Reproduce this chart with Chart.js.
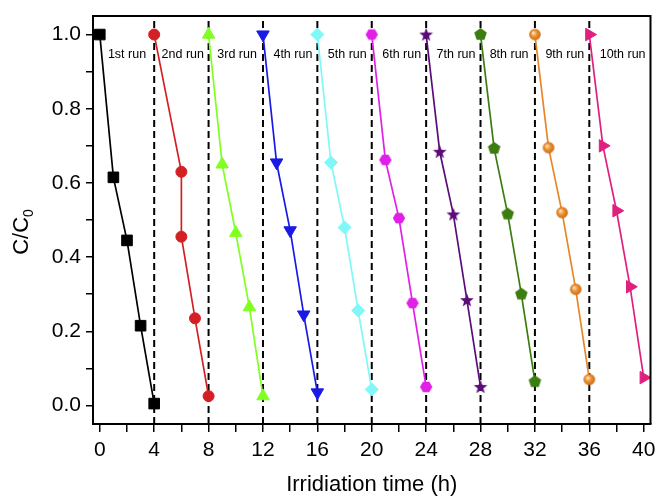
<!DOCTYPE html>
<html><head><meta charset="utf-8">
<script src="https://cdn.jsdelivr.net/npm/chart.js@4/dist/chart.umd.min.js"></script>
<style>html,body{margin:0;padding:0;background:#fff}</style>
</head><body>
<canvas id="c" width="659" height="498"></canvas>
<script>
// ---- data ----
const runNames = ['1st run','2nd run','3rd run','4th run','5th run','6th run','7th run','8th run','9th run','10th run'];
const timesRun1 = [0, 1, 2, 3, 4];      const ratioRun1 = [1.00, 0.615, 0.445, 0.215, 0.005];
const timesRun2 = [4, 6, 6, 7, 8];      const ratioRun2 = [1.00, 0.630, 0.455, 0.235, 0.025];
const timesRun3 = [8, 9, 10, 11, 12];   const ratioRun3 = [1.00, 0.650, 0.465, 0.265, 0.025];
const timesRun4 = [12, 13, 14, 15, 16]; const ratioRun4 = [1.00, 0.655, 0.472, 0.245, 0.035];
const timesRun5 = [16, 17, 18, 19, 20]; const ratioRun5 = [1.00, 0.655, 0.480, 0.256, 0.043];
const timesRun6 = [20, 21, 22, 23, 24]; const ratioRun6 = [1.00, 0.662, 0.505, 0.276, 0.050];
const timesRun7 = [24, 25, 26, 27, 28]; const ratioRun7 = [1.00, 0.684, 0.515, 0.284, 0.050];
const timesRun8 = [28, 29, 30, 31, 32]; const ratioRun8 = [1.00, 0.693, 0.516, 0.300, 0.064];
const timesRun9 = [32, 33, 34, 35, 36]; const ratioRun9 = [1.00, 0.695, 0.520, 0.313, 0.070];
const timesRun10 = [36, 37, 38, 39, 40]; const ratioRun10 = [1.00, 0.700, 0.525, 0.320, 0.075];
const dividerTimes = [4, 8, 12, 16, 20, 24, 28, 32, 36];
const runLabelTimes = [2.0, 6.1, 10.1, 14.2, 18.2, 22.2, 26.2, 30.1, 34.2, 38.45];
const runLabelLevel = 0.945;
const xTickValues = [0,2,4,6,8,10,12,14,16,18,20,22,24,26,28,30,32,34,36,38,40];
const yTickValues = [0,0.1,0.2,0.3,0.4,0.5,0.6,0.7,0.8,0.9,1.0];

const allTimes = [timesRun1,timesRun2,timesRun3,timesRun4,timesRun5,timesRun6,timesRun7,timesRun8,timesRun9,timesRun10];
const allRatios = [ratioRun1,ratioRun2,ratioRun3,ratioRun4,ratioRun5,ratioRun6,ratioRun7,ratioRun8,ratioRun9,ratioRun10];

// ---- styles ----
const colors = ['#000000','#d42024','#80ff20','#1a1ae6','#80f8f8','#e020e6','#5c0c7a','#3b7d10','#e8862a','#e0207f'];

function mk(size, draw){
  const c = document.createElement('canvas'); c.width = size; c.height = size;
  const g = c.getContext('2d'); draw(g, size/2); return c;
}
function poly(g, cx, r, n, start){
  g.beginPath();
  for(let i=0;i<n;i++){const a=start+i*2*Math.PI/n; const px=cx+r*Math.cos(a), py=cx+r*Math.sin(a); i?g.lineTo(px,py):g.moveTo(px,py);} g.closePath();
}
const hexImg = mk(14,(g,c)=>{poly(g,c,6.2,6,0); g.fillStyle=colors[5]; g.fill();});
const starImg = mk(16,(g,c)=>{g.beginPath(); for(let i=0;i<10;i++){const r=i%2?3.0:7.2; const a=-Math.PI/2+i*Math.PI/5; const px=c+r*Math.cos(a), py=c+0.5+r*Math.sin(a); i?g.lineTo(px,py):g.moveTo(px,py);} g.closePath(); g.fillStyle=colors[6]; g.fill();});
const pentImg = mk(15,(g,c)=>{poly(g,c,6.6,5,-Math.PI/2); g.fillStyle=colors[7]; g.fill();});
const sphereImg = mk(14,(g,c)=>{const gr=g.createRadialGradient(c-1.8,c-1.8,0.5,c,c,6); gr.addColorStop(0,'#ffe2b8'); gr.addColorStop(0.45,'#ec9236'); gr.addColorStop(1,'#c86a10'); g.beginPath(); g.arc(c,c,5.8,0,2*Math.PI); g.fillStyle=gr; g.fill();});

const pointStyles = ['rect','circle','triangle','triangle','rectRot',hexImg,starImg,pentImg,sphereImg,'triangle'];
const pointRot = [0,0,0,180,0,0,0,0,0,90];
const pointRad = [7.5,5.5,7.2,7.2,6.5,6,7,7,6,7.2];

const datasets = allTimes.map((ts,i)=>({
  label: runNames[i],
  data: ts.map((t,k)=>({x:t,y:allRatios[i][k]})),
  borderColor: colors[i], backgroundColor: colors[i],
  pointBackgroundColor: colors[i], pointBorderColor: colors[i],
  borderWidth: 1.7, pointRadius: pointRad[i], pointHoverRadius: pointRad[i], pointBorderWidth: 1,
  pointStyle: pointStyles[i], pointRotation: pointRot[i], order: 1
}));
const divData = [];
dividerTimes.forEach(t=>{divData.push({x:t,y:-0.05},{x:t,y:1.05},{x:t,y:null});});
datasets.push({label:'dividers', data: divData, borderColor:'#000', borderWidth:2, borderDash:[7,4], pointRadius:0, spanGaps:false, order: 10});

const FONT = "'Liberation Sans', Arial, sans-serif";

const extras = {
  id:'extras',
  afterDatasetsDraw(chart){
    const {ctx, scales:{x,y}} = chart;
    ctx.save();
    ctx.font = '12.5px ' + FONT; ctx.fillStyle='#000'; ctx.textAlign='center'; ctx.textBaseline='middle';
    runNames.forEach((n,i)=>ctx.fillText(n, x.getPixelForValue(runLabelTimes[i]), y.getPixelForValue(runLabelLevel)));
    ctx.restore();
  },
  afterDraw(chart){
    const {ctx, chartArea:a} = chart;
    ctx.save();
    ctx.strokeStyle='#000'; ctx.lineWidth=2;
    ctx.beginPath(); ctx.moveTo(a.left,a.top); ctx.lineTo(a.right,a.top); ctx.lineTo(a.right,a.bottom); ctx.stroke();
    // y axis title C/C0
    ctx.translate(22, 232); ctx.rotate(-Math.PI/2);
    ctx.fillStyle='#000'; ctx.textBaseline='middle';
    ctx.font = '22px ' + FONT;
    const w1 = ctx.measureText('C/C').width;
    ctx.font = '14px ' + FONT;
    const w2 = ctx.measureText('0').width;
    const x0 = -(w1+w2)/2;
    ctx.font = '22px ' + FONT; ctx.textAlign='left';
    ctx.fillText('C/C', x0, 0);
    ctx.font = '14px ' + FONT;
    ctx.fillText('0', x0 + w1, 7);
    ctx.restore();
  }
};

new Chart(document.getElementById('c'), {
  type:'line',
  data:{datasets},
  options:{
    responsive:false, animation:false,
    layout:{padding:{top:16,right:7,left:0,bottom:0}},
    plugins:{legend:{display:false}, tooltip:{enabled:false}},
    scales:{
      x:{type:'linear', min:-0.5, max:40.5,
        afterBuildTicks(s){ s.ticks = xTickValues.map(v=>({value:v})); },
        afterFit(s){ s.height = 74; s.paddingLeft = 0; s.paddingRight = 0; },
        ticks:{autoSkip:false, maxRotation:0, color:'#000', font:{family:FONT,size:21}, padding:6,
          callback:(v)=> v%4===0 ? String(v) : ''},
        grid:{drawOnChartArea:false, drawTicks:true, tickLength:8, color:'#000', lineWidth:1.5},
        border:{display:true, color:'#000', width:2},
        title:{display:true, text:'Irridiation time (h)', color:'#000', font:{family:FONT,size:22}, padding:{top:4,bottom:0}}
      },
      y:{type:'linear', min:-0.05, max:1.05,
        afterBuildTicks(s){ s.ticks = yTickValues.map(v=>({value:v})); },
        afterFit(s){ s.width = 93; s.paddingTop = 0; s.paddingBottom = 0; },
        ticks:{autoSkip:false, color:'#000', font:{family:FONT,size:21}, padding:5,
          callback:(v)=> (Math.round(v*10)%2===0) ? v.toFixed(1) : ''},
        grid:{drawOnChartArea:false, drawTicks:true, tickLength:7, color:'#000', lineWidth:1.5},
        border:{display:true, color:'#000', width:2}
      }
    }
  },
  plugins:[extras]
});
</script>
</body></html>
